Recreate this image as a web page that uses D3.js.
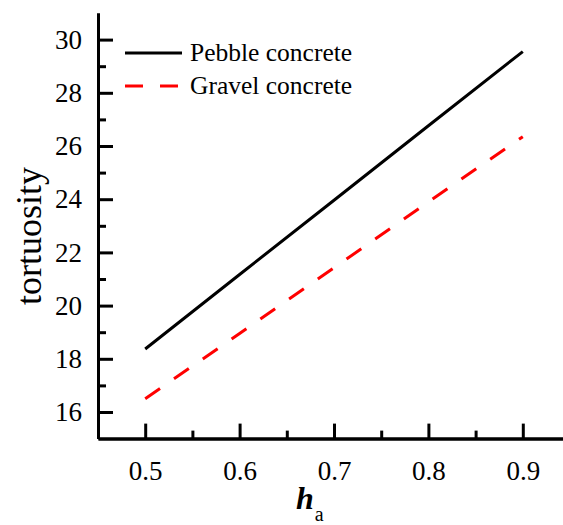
<!DOCTYPE html>
<html>
<head>
<meta charset="utf-8">
<script src="https://cdn.jsdelivr.net/npm/d3@7"></script>
<style>
  body { margin: 0; background: #fff; }
  svg { display: block; font-family: "Liberation Serif", "Times New Roman", serif; }
  svg text { font-family: "Liberation Serif", "Times New Roman", serif !important; }
</style>
</head>
<body>
<div id="chart"></div>
<script>
var ha = [0.5, 0.6, 0.7, 0.8, 0.9];
var pebble = [18.37, 21.17, 23.96, 26.76, 29.55];
var gravel = [16.5, 18.95, 21.42, 23.9, 26.35];
var xTicks = [0.5, 0.6, 0.7, 0.8, 0.9];
var yTicks = [16, 18, 20, 22, 24, 26, 28, 30];

var width = 563,
    height = 525,
    margin = {top: 13, left: 98, bottom: 86};

var svg = d3.select("#chart").append("svg")
  .attr("width", width)
  .attr("height", height);

var x = d3.scaleLinear()
  .domain([0.45, 0.95])
  .range([margin.left, 570]);

var y = d3.scaleLinear()
  .domain([15, 31])
  .range([height - margin.bottom - 0.4, margin.top]);

// minor ticks first, majors on top
var xMinor = d3.range(0.55, 0.95, 0.1);
var yMinor = d3.range(17, 31, 2);

var xAxis = svg.append("g")
  .attr("transform", "translate(0," + y(15) + ")");
xAxis.append("g")
  .call(d3.axisBottom(x).tickValues(xMinor).tickSizeInner(-8).tickSizeOuter(0).tickFormat(""));
xAxis.append("g")
  .call(d3.axisBottom(x).tickValues(xTicks).tickSizeInner(-15).tickSizeOuter(0).tickFormat(d3.format(".1f")));

var yAxis = svg.append("g")
  .attr("transform", "translate(" + x(0.45) + ",0)");
yAxis.append("g")
  .call(d3.axisLeft(y).tickValues(yMinor).tickSizeInner(-8).tickSizeOuter(0).tickFormat(""));
yAxis.append("g")
  .call(d3.axisLeft(y).tickValues(yTicks).tickSizeInner(-15).tickSizeOuter(0).tickFormat(d3.format("d")));

svg.selectAll("g").attr("font-family", null);
svg.selectAll(".domain").attr("stroke", "#000").attr("stroke-width", 3);
svg.selectAll(".tick line").attr("stroke", "#000").attr("stroke-width", 3);
svg.selectAll(".tick text")
  .attr("fill", "#000")
  .style("font-size", "27px");

xAxis.selectAll(".tick text").attr("y", 22);
yAxis.selectAll(".tick text").attr("x", -16);

var line = d3.line()
  .x(function(d, i) { return x(ha[i]); })
  .y(function(d) { return y(d); });

svg.append("path")
  .datum(pebble)
  .attr("d", line)
  .attr("fill", "none")
  .attr("stroke", "#000")
  .attr("stroke-width", 3);

svg.append("path")
  .datum(gravel)
  .attr("d", line)
  .attr("fill", "none")
  .attr("stroke", "#ff0000")
  .attr("stroke-width", 3)
  .attr("stroke-dasharray", "18,17");

// legend
var legend = [
  {name: "Pebble concrete", color: "#000", dash: null},
  {name: "Gravel concrete", color: "#ff0000", dash: "18,17"}
];
var lg = svg.selectAll(".legend")
  .data(legend)
  .enter().append("g")
  .attr("transform", function(d, i) { return "translate(125," + (53 + i * 33) + ")"; });
lg.append("line")
  .attr("x1", 0).attr("x2", 57)
  .attr("stroke", function(d) { return d.color; })
  .attr("stroke-width", 3)
  .attr("stroke-dasharray", function(d) { return d.dash; });
lg.append("text")
  .attr("x", 65)
  .attr("dy", "0.33em")
  .style("font-size", "25.5px")
  .text(function(d) { return d.name; });

// axis titles
svg.append("text")
  .attr("transform", "translate(41,236) rotate(-90)")
  .attr("text-anchor", "middle")
  .style("font-size", "36px")
  .text("tortuosity");

var xt = svg.append("text")
  .attr("x", 296)
  .attr("y", 509);
xt.append("tspan")
  .style("font-size", "32px")
  .style("font-style", "italic")
  .style("font-weight", "bold")
  .text("h");
xt.append("tspan")
  .attr("dy", 12)
  .attr("dx", 1)
  .style("font-size", "20px")
  .text("a");
</script>
</body>
</html>
